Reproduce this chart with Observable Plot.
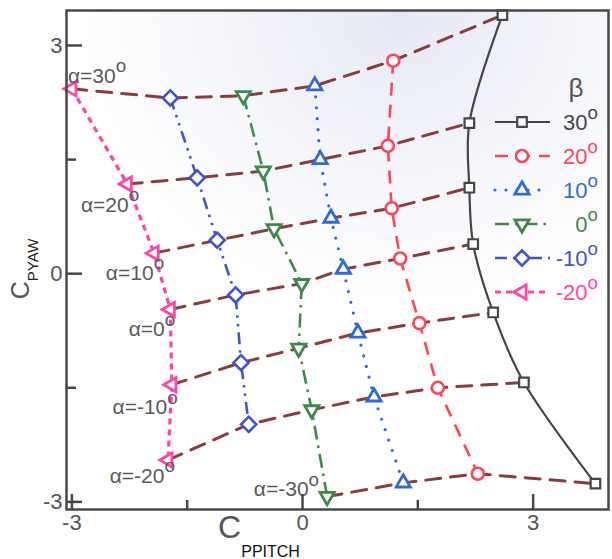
<!DOCTYPE html>
<html><head><meta charset="utf-8">
<script src="https://cdn.jsdelivr.net/npm/d3@7"></script>
<script src="https://cdn.jsdelivr.net/npm/@observablehq/plot@0.6"></script>
<style>
body{margin:0;background:#fff;}
#chart{position:relative;width:612px;height:559px;overflow:hidden;}
</style></head><body><div id="chart"></div>
<script>
// ---- data ----
const alpha = [30, 20, 10, 0, -10, -20, -30];
const betas = [30, 20, 10, 0, -10, -20];
const pitchB30 = [2.60, 2.17, 2.17, 2.22, 2.48, 2.88, 3.81];
const yawB30   = [3.40, 1.98, 1.13, 0.39, -0.51, -1.43, -2.76];
const pitchB20 = [1.18, 1.11, 1.16, 1.27, 1.52, 1.76, 2.28];
const yawB20   = [2.80, 1.68, 0.86, 0.20, -0.65, -1.50, -2.63];
const pitchB10 = [0.16, 0.23, 0.37, 0.53, 0.72, 0.93, 1.31];
const yawB10   = [2.47, 1.50, 0.73, 0.06, -0.78, -1.62, -2.75];
const pitchB0  = [-0.77, -0.51, -0.37, -0.01, -0.05, 0.12, 0.32];
const yawB0    = [2.34, 1.35, 0.59, -0.13, -0.98, -1.79, -2.93];
const pitchBm10 = [-1.72, -1.37, -1.11, -0.87, -0.80, -0.70, null];
const yawBm10   = [2.31, 1.26, 0.44, -0.28, -1.17, -1.98, null];
const pitchBm20 = [-3.00, -2.28, -1.93, -1.72, -1.70, -1.75, null];
const yawBm20   = [2.43, 1.18, 0.27, -0.47, -1.46, -2.45, null];
const xTicksMajor = [-3, 0, 3];
const xTicksMinor = [-1.5, 1.5];
const yTicksMajor = [-3, 0, 3];
const yTicksMinor = [-1.5, 1.5];
const alphaLabels = ["α=30", "α=20", "α=10", "α=0", "α=-10", "α=-20", "α=-30"];
const betaLabels = ["30", "20", "10", "0", "-10", "-20"];

// ---- build table ----
const pitchBy = {30: pitchB30, 20: pitchB20, 10: pitchB10, 0: pitchB0, "-10": pitchBm10, "-20": pitchBm20};
const yawBy = {30: yawB30, 20: yawB20, 10: yawB10, 0: yawB0, "-10": yawBm10, "-20": yawBm20};
const rows = [];
for (const b of betas) alpha.forEach((a, j) => {
  const x = pitchBy[b][j], y = yawBy[b][j];
  if (x != null && y != null) rows.push({beta: b, alpha: a, x, y});
});
const rowsAsc = [...betas].reverse().flatMap(b => rows.filter(r => r.beta === b));

// ---- symbols ----
function tri(angle) {
  return {draw(ctx, size) {
    const R = Math.sqrt(size / Math.PI);
    for (let k = 0; k < 3; k++) {
      const t = angle + k * 2 * Math.PI / 3;
      const px = R * Math.cos(t), py = R * Math.sin(t);
      k ? ctx.lineTo(px, py) : ctx.moveTo(px, py);
    }
    ctx.closePath();
  }};
}
const triUp = tri(-Math.PI / 2), triDown = tri(Math.PI / 2), triLeft = tri(Math.PI);

const styles = {
  30:   {color: "#464646", dash: null, width: 2.2, cap: "butt", symbol: d3.symbolSquare, r: 5.4, curve: "catmull-rom", mw: 2.2},
  20:   {color: "#ff4458", dash: "13,9", width: 2.6, cap: "butt", symbol: d3.symbolCircle, r: 6.0, curve: "linear", mw: 2.6},
  10:   {color: "#2f6ad6", dash: "0,11", width: 3.2, cap: "round", symbol: triUp, r: 8.2, curve: "linear", mw: 2.8},
  0:    {color: "#3e8a48", dash: "14,6,2.5,6", width: 2.6, cap: "butt", symbol: triDown, r: 8.2, curve: "linear", mw: 2.8},
  "-10":{color: "#3f55cc", dash: "12,6,2.5,6,2.5,6", width: 2.6, cap: "butt", symbol: d3.symbolDiamond2, r: 6.8, curve: "linear", mw: 2.6},
  "-20":{color: "#ff45a6", dash: "6,5", width: 3.2, cap: "butt", symbol: triLeft, r: 8.2, curve: "linear", mw: 2.8}
};

// label offsets (layout only)
const labelLayout = [
  {anchor: "start", dx: -4, dy: -13},
  {anchor: "end", dx: 12, dy: 21},
  {anchor: "end", dx: 10, dy: 20},
  {anchor: "end", dx: 5, dy: 20},
  {anchor: "end", dx: 6, dy: 23},
  {anchor: "end", dx: 7, dy: 16},
  {anchor: "end", dx: -8, dy: -7}
];

const marks = [];
// alpha (constant angle) lines
marks.push(Plot.line(rowsAsc, {x: "x", y: "y", z: "alpha", stroke: "#8c3c3c", strokeWidth: 3, strokeDasharray: "15,10"}));
// beta lines
for (const b of betas) {
  const s = styles[b];
  marks.push(Plot.line(rows.filter(r => r.beta === b), {x: "x", y: "y", stroke: s.color, strokeWidth: s.width,
    strokeDasharray: s.dash, strokeLinecap: s.cap, curve: s.curve}));
}
for (const b of betas) {
  const s = styles[b];
  marks.push(Plot.dot(rows.filter(r => r.beta === b), {x: "x", y: "y", symbol: s.symbol, r: s.r, stroke: s.color,
    fill: "white", strokeWidth: s.mw}));
}
// alpha labels anchored on the first point of each alpha line
alpha.forEach((a, j) => {
  const first = rowsAsc.find(r => r.alpha === a);
  const L = labelLayout[j];
  marks.push(Plot.text([first], {x: "x", y: "y", text: () => alphaLabels[j], textAnchor: L.anchor, dx: L.dx, dy: L.dy,
    fontSize: 21, fill: "#5a5a5a", fontFamily: "Liberation Sans, Arial, sans-serif"}));
});
// axes
const fmt = d => String(d);
marks.push(
  Plot.frame({stroke: "#484848", strokeWidth: 2.5}),
  Plot.axisX({ticks: xTicksMajor, tickSize: 0, tickPadding: 5, fontSize: 22, color: "#555", tickFormat: fmt, label: null}),
  Plot.axisY({ticks: yTicksMajor, tickSize: 0, tickPadding: 4, fontSize: 22, color: "#555", tickFormat: fmt, label: null}),
  Plot.axisX({ticks: xTicksMajor, tickSize: -15, strokeWidth: 2.5, color: "#484848", tickFormat: () => "", label: null}),
  Plot.axisX({ticks: xTicksMinor, tickSize: -9, strokeWidth: 2.5, color: "#484848", tickFormat: () => "", label: null}),
  Plot.axisY({ticks: yTicksMajor, tickSize: -16, strokeWidth: 2.5, color: "#484848", tickFormat: () => "", label: null}),
  Plot.axisY({ticks: yTicksMinor, tickSize: -10, strokeWidth: 2.5, color: "#484848", tickFormat: () => "", label: null})
);

const plot = Plot.plot({
  width: 612, height: 559,
  marginLeft: 66, marginRight: 4, marginTop: 10, marginBottom: 50,
  x: {domain: [-3.07, 3.98]},
  y: {domain: [-3.1, 3.46]},
  style: {fontFamily: "Liberation Sans, Arial, sans-serif", background: "transparent", overflow: "visible"},
  marks
});
document.getElementById("chart").append(plot);

const svg = d3.select(plot);
const xs = plot.scale("x"), ys = plot.scale("y");
const [x0, x1] = xs.range, [y0, y1] = ys.range; // y0 bottom, y1 top

// subtle background tint
const defs = svg.insert("defs", ":first-child");
const grad = defs.append("radialGradient").attr("id", "bgTint").attr("cx", "0.62").attr("cy", "0.0").attr("r", "0.6");
grad.append("stop").attr("offset", "0").attr("stop-color", "#e6e8f4");
grad.append("stop").attr("offset", "0.55").attr("stop-color", "#f5f6fb");
grad.append("stop").attr("offset", "1").attr("stop-color", "#ffffff");
svg.insert("rect", "defs + *").attr("x", x0).attr("y", y1).attr("width", x1 - x0).attr("height", y0 - y1).attr("fill", "url(#bgTint)");

// degree superscripts on alpha labels
svg.selectAll("text").filter(function () { return this.textContent.startsWith("α="); }).each(function () {
  d3.select(this).append("tspan").attr("dy", "-0.55em").attr("font-size", "0.9em").text("o");
});

// axis titles with subscripts
const xt = svg.append("text").attr("x", 259).attr("y", 538).attr("fill", "#555").attr("font-size", 32)
  .attr("font-family", "Liberation Sans, Arial, sans-serif");
xt.append("tspan").text("C");
xt.append("tspan").attr("dy", 19).attr("font-size", 16).attr("fill", "#111").text("PPITCH");
const yt = svg.append("text").attr("transform", "translate(29,269) rotate(-90)").attr("fill", "#555").attr("font-size", 25)
  .attr("font-family", "Liberation Sans, Arial, sans-serif");
yt.append("tspan").text("C");
yt.append("tspan").attr("dy", 9).attr("font-size", 15).attr("fill", "#222").text("PYAW");

// legend
const lg = svg.append("g").attr("font-family", "Liberation Sans, Arial, sans-serif");
lg.append("text").attr("x", 576).attr("y", 88).attr("dy", "0.35em").attr("text-anchor", "middle").attr("font-size", 26).attr("fill", "#555").text("β");
betas.forEach((b, i) => {
  const s = styles[b];
  const yy = 122 + i * 34;
  lg.append("line").attr("x1", 495).attr("x2", 550).attr("y1", yy).attr("y2", yy).attr("stroke", s.color)
    .attr("stroke-width", s.width).attr("stroke-dasharray", s.dash).attr("stroke-linecap", s.cap);
  lg.append("path").attr("transform", `translate(522,${yy})`).attr("d", d3.symbol(s.symbol, Math.PI * s.r * s.r)())
    .attr("fill", "white").attr("stroke", s.color).attr("stroke-width", s.mw);
  const t = lg.append("text").attr("x", 598).attr("y", yy).attr("dy", "0.38em").attr("text-anchor", "end")
    .attr("font-size", 22).attr("fill", s.color);
  t.append("tspan").text(betaLabels[i]);
  t.append("tspan").attr("dy", "-0.6em").attr("font-size", "0.85em").text("o");
});
</script></body></html>
